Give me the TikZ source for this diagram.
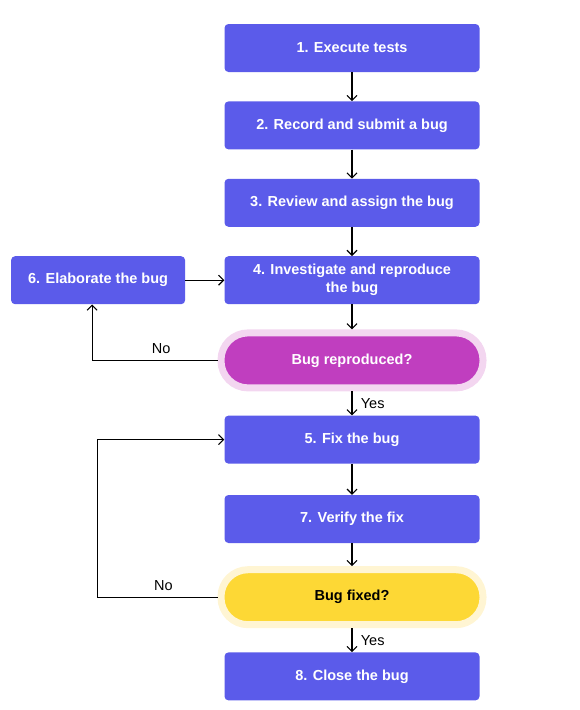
\documentclass[tikz,border=0pt]{standalone}
\usepackage{fontspec}
\setmainfont{Liberation Sans}
\usepackage{xcolor}
\usetikzlibrary{arrows.meta, positioning, calc}
\definecolor{stepblue}{HTML}{5B5BEA}
\definecolor{checkpink}{HTML}{C03EBF}
\definecolor{pinkglow}{HTML}{F3D6F0}
\definecolor{checkgold}{HTML}{FDD835}
\definecolor{goldglow}{HTML}{FFF5D3}

\tikzset{
  stepbox/.style={fill=stepblue, text=white, rounded corners=4pt, minimum width=255pt, minimum height=48pt,
    align=center, font=\fontsize{14.5}{18}\selectfont\bfseries},
  checkbox/.style={rounded corners=27pt, minimum width=262pt, minimum height=55pt, line width=7pt,
    align=center, font=\fontsize{14.5}{17}\selectfont\bfseries},
  flow/.style={-{Straight Barb[length=5pt,width=10pt]}, line width=1.1pt},
  answer/.style={font=\fontsize{14.5}{17}\selectfont}
}

\begin{document}
\begin{tikzpicture}[x=1pt, y=1pt, node distance=30pt]
  \useasboundingbox (0,0) rectangle (580,-710);

  \node[stepbox] (step1) at (352,-48) {1. Execute tests};
  \node[stepbox, below=29pt of step1] (step2) {2. Record and submit a bug};
  \node[stepbox, below=29pt of step2] (step3) {3. Review and assign the bug};
  \node[stepbox, below=29pt of step3] (step4) {4. Investigate and reproduce\\the bug};
  \node[stepbox, minimum width=174pt, left=39pt of step4] (step6) {6. Elaborate the bug};
  \node[checkbox, draw=pinkglow, fill=checkpink, text=white, below=25pt of step4] (check1) {Bug reproduced?};
  \node[stepbox, below=24pt of check1] (step5) {5. Fix the bug};
  \node[stepbox, below=31pt of step5] (step7) {7. Verify the fix};
  \node[checkbox, draw=goldglow, fill=checkgold, text=black, below=23pt of step7] (check2) {Bug fixed?};
  \node[stepbox, below=24pt of check2] (step8) {8. Close the bug};

  % main column
  \draw[flow] (step1) -- (step2);
  \draw[flow] (step2) -- (step3);
  \draw[flow] (step3) -- (step4);
  \draw[flow] (step4) -- (check1);
  \draw[flow] (check1) -- node[answer, right=5pt] {Yes} (step5);
  \draw[flow] (step5) -- (step7);
  \draw[flow] (step7) -- (check2);
  \draw[flow] (check2) -- node[answer, right=5pt] {Yes} (step8);
  \draw[flow] (step6) -- (step4);

  % loops back
  \coordinate (back1) at ($(step6.south)+(-6,0)$);
  \draw[flow] (check1.west) -- node[answer, above=3pt, pos=0.45] {No} (back1 |- check1.west) -- (back1);
  \coordinate (back2) at ($(check2.west)+(-120,0)$);
  \draw[flow] (check2.west) -- node[answer, above=3pt, pos=0.45] {No} (back2) |- (step5.west);
\end{tikzpicture}
\end{document}
